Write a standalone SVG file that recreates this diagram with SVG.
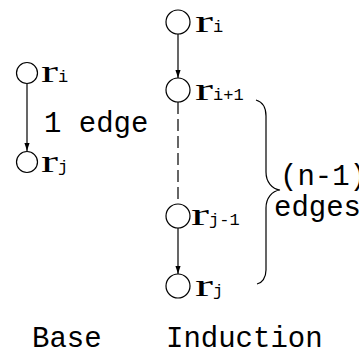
<svg xmlns="http://www.w3.org/2000/svg" width="359" height="354" viewBox="0 0 359 354">
<style>
.n{fill:#fff;stroke:#000;stroke-width:1.2}
.e{stroke:#000;stroke-width:1.2;fill:none}
.d{stroke-dasharray:12 5}
.r{font-family:"Liberation Serif",serif;font-size:32px;fill:#000}
.s{font-family:"Liberation Mono",monospace;font-size:17px;fill:#000}
.t{font-family:"Liberation Mono",monospace;font-size:29px;fill:#000}
</style>
<defs>
<marker id="a" markerWidth="8" markerHeight="12" refX="11" refY="3.5" orient="auto" markerUnits="userSpaceOnUse" viewBox="0 0 11 7">
<path d="M0,0 L11,3.5 L0,7 Z" fill="#000"/>
</marker>
</defs>
<g id="connectors">
<line class="e" x1="27" y1="84" x2="27" y2="151" marker-end="url(#a)"/>
<line class="e" x1="178" y1="34" x2="178" y2="78" marker-end="url(#a)"/>
<line class="e d" x1="178" y1="102" x2="178" y2="205"/>
<line class="e" x1="178" y1="228" x2="178" y2="274" marker-end="url(#a)"/>
<path class="e" d="M256,100 C263,102 266,107 266,116 L266,172 C266,182 272,189 280,190 C272,191 266,198 266,208 L266,270 C266,278 262,283 257,284"/>
</g>
<g id="base-ri">
<circle class="n" cx="27" cy="73" r="10.5"/>
<text class="r" x="41" y="82" textLength="17" lengthAdjust="spacingAndGlyphs">r</text><text class="s" x="58" y="82">i</text>
</g>
<g id="base-rj">
<circle class="n" cx="27" cy="162" r="10.5"/>
<text class="r" x="41" y="172" textLength="17" lengthAdjust="spacingAndGlyphs">r</text><text class="s" x="58" y="172">j</text>
</g>
<text class="t" x="44" y="132">1 edge</text>
<g id="ind-ri">
<circle class="n" cx="178" cy="22" r="12"/>
<text class="r" x="195" y="32" textLength="18" lengthAdjust="spacingAndGlyphs">r</text><text class="s" x="213" y="32">i</text>
</g>
<g id="ind-ri1">
<circle class="n" cx="178" cy="90" r="12"/>
<text class="r" x="195" y="100" textLength="18" lengthAdjust="spacingAndGlyphs">r</text><text class="s" x="213" y="100">i+1</text>
</g>
<g id="ind-rj1">
<circle class="n" cx="178" cy="216" r="12"/>
<text class="r" x="191" y="225" textLength="18" lengthAdjust="spacingAndGlyphs">r</text><text class="s" x="209" y="225">j-1</text>
</g>
<g id="ind-rj">
<circle class="n" cx="178" cy="286" r="12"/>
<text class="r" x="195" y="296" textLength="18" lengthAdjust="spacingAndGlyphs">r</text><text class="s" x="213" y="296">j</text>
</g>
<text class="t" x="280" y="185">(n-1)</text>
<text class="t" x="274" y="216">edges</text>
<text class="t" x="32" y="347">Base</text>
<text class="t" x="166" y="347">Induction</text>
</svg>
